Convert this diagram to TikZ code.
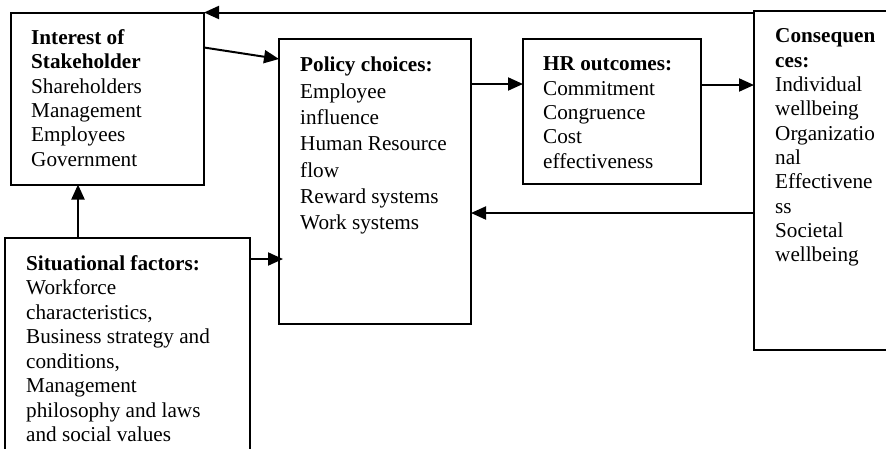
\documentclass[tikz,border=0pt]{standalone}
\usepackage{fontspec}
\setmainfont{Liberation Serif}
\usetikzlibrary{arrows.meta,calc}
\begin{document}
\begin{tikzpicture}[x=1pt,y=-1pt,
  box/.style={draw,line width=2pt,anchor=north west,inner sep=0pt,outer sep=0pt},
  % the \strut in the first line fixes the top at 0.7 baselineskip above its baseline
  txt/.style={anchor=north west,align=left,inner sep=0pt,font=\fontsize{21.2}{24.3}\selectfont},
  link/.style={line width=2pt,-{Triangle[length=15pt,width=13pt]}}]
\useasboundingbox (0,0) rectangle (886,448);
\clip (0,0) rectangle (886,448);

% boxes
\node[box,minimum width=193pt,minimum height=172pt] (int) at (11,12.5) {};
\node[box,minimum width=245pt,minimum height=230pt] (sit) at (5,238) {};
\node[box,minimum width=192pt,minimum height=285pt] (pol) at (279,39) {};
\node[box,minimum width=178pt,minimum height=145pt] (hr) at (523,39) {};
\node[box,minimum width=150pt,minimum height=339pt] (cons) at (754,11) {};

% box texts (top = first baseline - 0.7 baselineskip)
\node[txt] (intT) at (31,27.3) {\strut\textbf{Interest of}\\\textbf{Stakeholder}\\Shareholders\\Management\\Employees\\Government};
\begin{scope}
  % the last line of this text box is cut just below its baseline
  \clip (0,0) rectangle (886,442.5);
  \node[txt,font=\fontsize{21.2}{24.5}\selectfont] (sitT) at (26,252.9) {\strut\textbf{Situational factors:}\\Workforce\\characteristics,\\Business strategy and\\conditions,\\Management\\philosophy and laws\\and social values};
\end{scope}
\node[txt,font=\fontsize{21.2}{26.3}\selectfont] (polT) at (300,53.3) {\strut\textbf{Policy choices:}\\Employee\\influence\\Human Resource\\flow\\Reward systems\\Work systems};
\node[txt] (hrT) at (543,53.7) {\strut\textbf{HR outcomes:}\\Commitment\\Congruence\\Cost\\effectiveness};
\node[txt] (consT) at (775,25.7) {\strut\textbf{Consequen}\\\textbf{ces:}\\Individual\\wellbeing\\Organizatio\\nal\\Effectivene\\ss\\Societal\\wellbeing};

% connectors
\draw[link] (sit.north west -| 78,0) -- (int.south west -| 78,0);
\draw[link] ($(int.north east)+(0,35)$) -- ($(pol.north west)+(0,20)$);
\draw[link] (sit.east |- 0,259) -- ($(pol.west |- 0,259)+(4,0)$);
\draw[link] (pol.east |- 0,84) -- (hr.west |- 0,84);
\draw[link] (hr.east |- 0,85) -- (cons.west |- 0,85);
\draw[link] (cons.west |- 0,213) -- (pol.east |- 0,213);
\draw[link] (cons.west |- int.north east) -- (int.north east);
\end{tikzpicture}
\end{document}
